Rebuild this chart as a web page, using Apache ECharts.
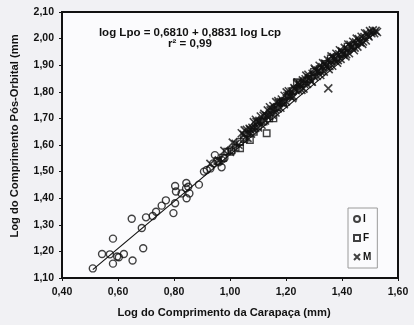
<!DOCTYPE html>
<html>
<head>
	<title>Lpo x Lcp</title>
	<meta charset="UTF-8">
	<script src="https://cdn.jsdelivr.net/npm/echarts/dist/echarts.min.js"></script>
<style>
	html, body {
		margin: 0;
		padding: 0;
		background-color: #f1f1f4;
	}
	#chart {
		width: 414px;
		height: 325px;
	}
</style>
</head>
<body>
	<div id="chart"></div>

	<script>
		// eixos
		var xTicks = [0.40, 0.60, 0.80, 1.00, 1.20, 1.40, 1.60];
		var yTicks = [1.10, 1.20, 1.30, 1.40, 1.50, 1.60, 1.70, 1.80, 1.90, 2.00, 2.10];

		// reta de regressao: log Lpo = a + b log Lcp
		var fitA = 0.6810;
		var fitB = 0.8831;
		var fitX = [0.51, 1.52];

		// I (circulos)
		var pontosI = [
			[0.510,1.136],[0.543,1.190],[0.571,1.189],[0.582,1.154],[0.582,1.248],[0.597,1.181],
			[0.603,1.178],[0.621,1.190],[0.652,1.166],[0.649,1.323],[0.690,1.212],[0.685,1.288],
			[0.700,1.328],[0.724,1.333],[0.736,1.349],[0.756,1.372],[0.771,1.392],[0.798,1.344],
			[0.804,1.381],[0.804,1.446],[0.807,1.425],[0.827,1.418],[0.844,1.457],[0.843,1.437],
			[0.845,1.400],[0.855,1.418],[0.851,1.443],[0.889,1.451],[0.907,1.500],[0.917,1.506],
			[0.930,1.512],[0.940,1.531],[0.946,1.562],[0.960,1.535],[0.970,1.544],[0.970,1.516],
			[0.980,1.550],[1.006,1.575]
		];

		// F (quadrados)
		var pontosF = [
			[0.955,1.540],[0.975,1.552],[0.990,1.575],[1.005,1.580],[1.020,1.590],[1.036,1.588],
			[1.036,1.612],[1.050,1.622],[1.071,1.619],[1.085,1.650],[1.100,1.670],[1.120,1.688],
			[1.131,1.644],[1.140,1.700],[1.155,1.700],[1.170,1.742],[1.190,1.760],[1.210,1.790],
			[1.225,1.803],[1.239,1.836],[1.250,1.832],[1.265,1.840],[1.280,1.848],[1.300,1.875],
			[1.320,1.885],[1.340,1.905],[1.360,1.925],[1.380,1.930],[1.400,1.948],[1.420,1.970],
			[1.440,1.975]
		];

		// M (x)
		var pontosM = [
			[0.930,1.529],[0.960,1.542],[0.980,1.578],[1.000,1.574],[1.010,1.609],[1.020,1.604],
			[1.030,1.601],[1.042,1.644],[1.050,1.638],[1.055,1.628],[1.060,1.657],[1.065,1.644],
			[1.070,1.661],[1.075,1.643],[1.080,1.665],[1.085,1.686],[1.090,1.664],[1.095,1.687],
			[1.100,1.666],[1.105,1.691],[1.110,1.707],[1.115,1.690],[1.120,1.710],[1.125,1.692],
			[1.130,1.711],[1.135,1.730],[1.140,1.710],[1.145,1.730],[1.150,1.714],[1.155,1.746],
			[1.160,1.735],[1.165,1.761],[1.170,1.737],[1.175,1.757],[1.180,1.740],[1.185,1.771],
			[1.190,1.762],[1.195,1.785],[1.200,1.764],[1.205,1.784],[1.210,1.802],[1.215,1.782],
			[1.220,1.801],[1.225,1.783],[1.230,1.814],[1.235,1.806],[1.240,1.831],[1.245,1.806],
			[1.250,1.827],[1.255,1.807],[1.260,1.843],[1.265,1.830],[1.270,1.847],[1.275,1.830],
			[1.280,1.864],[1.285,1.851],[1.290,1.839],[1.295,1.868],[1.300,1.857],[1.305,1.882],
			[1.310,1.860],[1.315,1.880],[1.320,1.898],[1.325,1.875],[1.330,1.893],[1.335,1.876],
			[1.340,1.906],[1.345,1.896],[1.350,1.919],[1.351,1.813],[1.355,1.897],[1.360,1.916],
			[1.365,1.898],[1.370,1.931],[1.375,1.918],[1.380,1.943],[1.385,1.919],[1.390,1.941],
			[1.395,1.924],[1.400,1.952],[1.405,1.940],[1.410,1.965],[1.415,1.941],[1.420,1.961],
			[1.425,1.945],[1.430,1.977],[1.435,1.966],[1.440,1.988],[1.445,1.966],[1.450,1.986],
			[1.455,1.970],[1.460,1.998],[1.465,1.986],[1.470,2.007],[1.475,1.989],[1.480,2.006],
			[1.485,1.993],[1.490,2.019],[1.495,2.008],[1.500,2.028],[1.505,2.020],[1.510,2.031],
			[1.515,2.020],[1.520,2.029],[1.525,2.025],
			[1.0525,1.655],[1.0625,1.627],[1.0725,1.658],[1.0825,1.659],[1.0925,1.695],[1.1025,1.686],
			[1.1125,1.676],[1.1225,1.717],[1.1325,1.708],[1.1425,1.742],[1.1525,1.732],[1.1625,1.722],
			[1.1725,1.765],[1.1825,1.761],[1.1925,1.753],[1.2025,1.798],[1.2125,1.786],[1.2225,1.776],
			[1.2325,1.809],[1.2425,1.835],[1.2525,1.820],[1.2625,1.812],[1.2725,1.861],[1.2825,1.852],
			[1.2925,1.838],[1.3025,1.887],[1.3125,1.875],[1.3225,1.863],[1.3325,1.908],[1.3425,1.896],
			[1.3525,1.885],[1.3625,1.933],[1.3725,1.923],[1.3825,1.909],[1.3925,1.956],[1.4025,1.944],
			[1.4125,1.933],[1.4225,1.978],[1.4325,1.968],[1.4425,1.956],[1.4525,2.000],[1.4625,1.988],
			[1.4725,1.980],[1.4825,2.020],[1.4925,2.011]
		];

		var fitData = fitX.map(function (x) { return [x, fitA + fitB * x]; });

		var fonte = 'Liberation Sans, Arial, sans-serif';
		var tinta = '#121212';
		var xisPath = 'path://M0,0L10,10M0,10L10,0';

		function virgula(v) {
			return v.toFixed(2).replace('.', ',');
		}

		var myChart = echarts.init(document.getElementById('chart'));

		var option = {
			backgroundColor: '#f1f1f4',
			animation: false,
			grid: {
				left: 62,
				right: 16,
				top: 12,
				bottom: 47,
				show: true,
				backgroundColor: '#fbfbfd',
				borderColor: tinta,
				borderWidth: 2
			},
			xAxis: {
				type: 'value',
				min: xTicks[0],
				max: xTicks[xTicks.length - 1],
				interval: 0.2,
				name: 'Log do Comprimento da Carapaça (mm)',
				nameLocation: 'middle',
				nameGap: 29,
				nameTextStyle: { fontFamily: fonte, fontWeight: 'bold', fontSize: 11.2, color: tinta, padding: [0, 12, 0, 0] },
				axisLine: { show: true, lineStyle: { color: tinta, width: 2 } },
				axisTick: { show: true, length: 3, lineStyle: { color: tinta } },
				axisLabel: { formatter: virgula, margin: 9, fontFamily: fonte, fontWeight: 'bold', fontSize: 10.5, color: tinta },
				splitLine: { show: false }
			},
			yAxis: {
				type: 'value',
				min: yTicks[0],
				max: yTicks[yTicks.length - 1],
				interval: 0.1,
				axisLine: { show: true, lineStyle: { color: tinta, width: 2 } },
				axisTick: { show: true, length: 3, lineStyle: { color: tinta } },
				axisLabel: { formatter: virgula, margin: 8, fontFamily: fonte, fontWeight: 'bold', fontSize: 10.5, color: tinta },
				splitLine: { show: false }
			},
			legend: {
				data: ['I', 'F', 'M'],
				orient: 'vertical',
				left: 348,
				top: 208,
				padding: [6, 6, 6, 5],
				itemGap: 9,
				itemWidth: 6,
				itemHeight: 6,
				borderColor: '#9a9a9a',
				borderWidth: 1,
				backgroundColor: '#fbfbfd',
				textStyle: { fontFamily: fonte, fontWeight: 'bold', fontSize: 10, color: tinta, padding: [0, 0, 3, -2] }
			},
			graphic: [
				{
					type: 'text',
					x: 190,
					y: 33,
					style: {
						text: 'log Lpo = 0,6810 + 0,8831 log Lcp',
						font: 'bold 11.5px Liberation Sans, Arial, sans-serif',
						fill: tinta,
						textAlign: 'center',
						textVerticalAlign: 'middle'
					}
				},
				{
					type: 'text',
					x: 190,
					y: 44,
					style: {
						text: 'r² = 0,99',
						font: 'bold 11.5px Liberation Sans, Arial, sans-serif',
						fill: tinta,
						textAlign: 'center',
						textVerticalAlign: 'middle'
					}
				},
				{
					type: 'text',
					x: 15,
					y: 136,
					rotation: Math.PI / 2,
					style: {
						text: 'Log do Comprimento Pós-Orbital (mm',
						font: 'bold 11.2px Liberation Sans, Arial, sans-serif',
						fill: tinta,
						textAlign: 'center',
						textVerticalAlign: 'middle'
					}
				}
			],
			series: [
				{
					name: 'reta',
					type: 'line',
					data: fitData,
					symbol: 'none',
					silent: true,
					z: 1,
					lineStyle: { color: tinta, width: 1.2 }
				},
				{
					name: 'I',
					type: 'scatter',
					data: pontosI,
					symbol: 'circle',
					symbolSize: 7,
					z: 2,
					itemStyle: { color: 'rgba(0,0,0,0)', borderColor: tinta, borderWidth: 1.4 }
				},
				{
					name: 'F',
					type: 'scatter',
					data: pontosF,
					symbol: 'rect',
					symbolSize: 6.5,
					z: 3,
					itemStyle: { color: 'rgba(0,0,0,0)', borderColor: tinta, borderWidth: 1.4 }
				},
				{
					name: 'M',
					type: 'scatter',
					data: pontosM,
					symbol: xisPath,
					symbolSize: 8,
					z: 4,
					itemStyle: { color: 'rgba(0,0,0,0)', borderColor: tinta, borderWidth: 1.6 }
				}
			]
		};

		myChart.setOption(option);
	</script>
</body>
</html>
